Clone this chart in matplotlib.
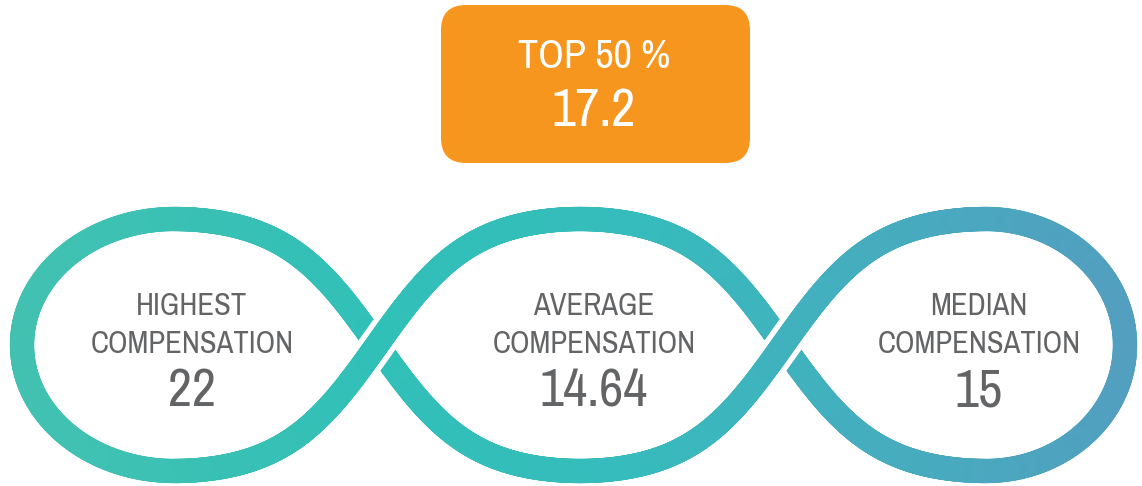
import numpy as np
import matplotlib.pyplot as plt
from matplotlib import font_manager
from matplotlib.collections import LineCollection
from matplotlib.patches import FancyBboxPatch
from matplotlib.colors import LinearSegmentedColormap

# data
labels = ["HIGHEST\nCOMPENSATION", "AVERAGE\nCOMPENSATION", "MEDIAN\nCOMPENSATION"]
values = ["22", "14.64", "15"]
top_label = "TOP 50 %"
top_value = "17.2"

W, H = 1142, 486
fig = plt.figure(figsize=(W / 100, H / 100), dpi=100)
ax = fig.add_axes([0, 0, 1, 1])
ax.set_xlim(0, W)
ax.set_ylim(H, 0)
ax.axis("off")

# look for a narrow face, the original uses a condensed sans
narrow = sorted({f.name for f in font_manager.fontManager.ttflist
                 if "Condensed" in f.name or "Narrow" in f.name
                 or f.stretch in ("condensed", "semi-condensed", "extra-condensed")})
FONT = (narrow[:1] if narrow else []) + ["DejaVu Sans"]
STRETCH = "condensed" if not narrow else "normal"
GREY = "#636466"

# geometry of the three-lobe band (pixels)
yc, amp = 345, 126
x_left_peak, x_right_peak = 174, 986
half = (x_right_peak - x_left_peak) / 2  # crossing-to-crossing distance
x_left_end, x_right_end = 22, 1125
lw = 17.5
k = 1.2  # makes the lobes a bit boxier than a plain cosine

def strand(x, sign):
    c = np.cos(np.pi * (x - x_left_peak) / half)
    return yc - sign * amp * np.tanh(k * c) / np.tanh(k)

xs = np.linspace(x_left_peak, x_right_peak, 800)
t = np.linspace(np.pi / 2, -np.pi / 2, 200)
rx_r = x_right_end - x_right_peak
rx_l = x_left_peak - x_left_end
px = np.concatenate([xs, x_right_peak + rx_r * np.cos(t),
                     xs[::-1], x_left_peak - rx_l * np.cos(t)])
py = np.concatenate([strand(xs, 1), yc - amp * np.sin(t),
                     strand(xs[::-1], -1), yc + amp * np.sin(t)])

cmap = LinearSegmentedColormap.from_list(
    "band", [(0, "#43c1b1"), (0.33, "#31c0b8"), (0.55, "#36bcbc"),
             (0.75, "#44aebe"), (1, "#539ec0")])

def band(x, y, **kw):
    pts = np.column_stack([x, y]).reshape(-1, 1, 2)
    segs = np.concatenate([pts[:-1], pts[1:]], axis=1)
    lc = LineCollection(segs, cmap=cmap, norm=plt.Normalize(0, W),
                        linewidths=lw, **kw)
    lc.set_array((x[:-1] + x[1:]) / 2)
    ax.add_collection(lc)

band(px, py, capstyle="round", zorder=1)

# over-strands at the two crossings, with a white border
for xc, sign in [(x_left_peak + half / 2, -1), (x_left_peak + 1.5 * half, 1)]:
    xw = np.linspace(xc - 45, xc + 45, 80)
    yw = strand(xw, sign)
    ax.plot(xw, yw, color="white", lw=lw + 8, solid_capstyle="butt", zorder=2)
    band(xw, yw, capstyle="round", zorder=3)

# top box
box = FancyBboxPatch((441 + 25, 5 + 25), 309 - 50, 158 - 50,
                     boxstyle="round,pad=25", fc="#f7961f", ec="none", zorder=4)
ax.add_patch(box)
ax.text(594, 56, top_label, color="white", fontsize=29, family=FONT,
        stretch=STRETCH, ha="center", va="center", zorder=5)
ax.text(594, 111, top_value, color="white", fontsize=38, family=FONT,
        stretch=STRETCH, ha="center", va="center", zorder=5)

# lobe texts
for cx, lab, val in zip([192, 594, 979], labels, values):
    ax.text(cx, 325, lab, color=GREY, fontsize=22, family=FONT,
            stretch=STRETCH, ha="center", va="center", linespacing=1.45)
    ax.text(cx, 391, val, color=GREY, fontsize=38, family=FONT,
            stretch=STRETCH, ha="center", va="center")

fig.savefig("out.png", dpi=100)
